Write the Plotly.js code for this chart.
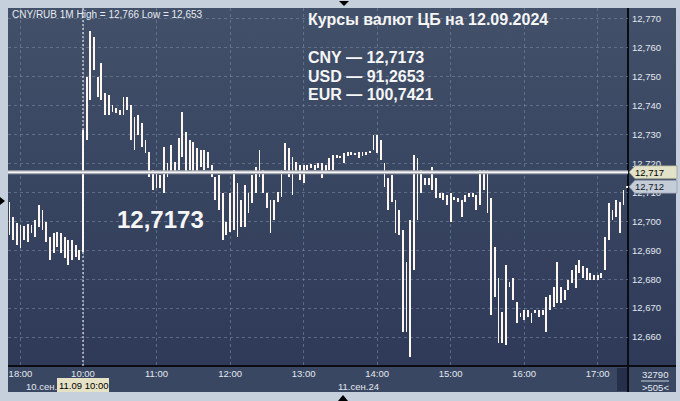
<!DOCTYPE html>
<html><head><meta charset="utf-8">
<script src="https://cdn.plot.ly/plotly-3.0.1.min.js"></script>
<style>
html,body{margin:0;padding:0;background:#c6d0dc;width:680px;height:401px;overflow:hidden;}
.p{position:absolute;}
#plotbg{left:8px;top:8px;width:620px;height:358px;background:linear-gradient(#425069,#2e3a58);}
#rightbg{left:628px;top:8px;width:48px;height:358px;background:linear-gradient(#425069,#2e3a58);}
#xband{left:8px;top:366px;width:668px;height:26px;background:#3a4762;}
#scroll{left:617px;top:368px;width:10px;height:23px;background:#26304a;}
#hl{left:8px;top:365px;width:668px;height:2px;background:#0a0d14;}
#vl{left:627px;top:8px;width:2px;height:384px;background:#0a0d14;}
#tt{left:339px;top:1px;width:0;height:0;border-left:5px solid transparent;border-right:5px solid transparent;border-top:5px solid #000;}
#tb{left:338px;top:395px;width:0;height:0;border-left:5px solid transparent;border-right:5px solid transparent;border-bottom:6px solid #000;}
#tl{left:0px;top:197px;width:0;height:0;border-top:4px solid transparent;border-bottom:4px solid transparent;border-left:5px solid #000;}
#chart{position:absolute;left:0;top:0;width:680px;height:401px;}
</style></head>
<body>
<div class="p" id="plotbg"></div><div class="p" id="rightbg"></div><div class="p" id="xband"></div>
<div class="p" id="scroll"></div><div class="p" id="hl"></div><div class="p" id="vl"></div>
<div class="p" id="tt"></div><div class="p" id="tb"></div><div class="p" id="tl"></div>
<div id="chart"></div>
<script>
// minutes from 10:00 on 11.09 (negative = evening session of 10.09, 18:00 = -51)
const minutes = [
-60,-57,-54,-51,-48,-45,-42,-39,-36,-33,
-30,-27,-24,-21,-18,-15,-12,-9,-6,-3,
0,3,6,9,12,15,18,21,24,27,
30,33,36,39,42,45,48,51,54,57,
60,63,66,69,72,75,78,81,84,87,
90,93,96,99,102,105,108,111,114,117,
120,123,126,129,132,135,138,141,144,147,
150,153,156,159,162,165,168,171,174,177,
180,183,186,189,192,195,198,201,204,207,
210,213,216,219,222,225,228,231,234,237,
240,243,246,249,252,255,258,261,264,267,
270,273,276,279,282,285,288,291,294,297,
300,303,306,309,312,315,318,321,324,327,
330,333,336,339,342,345,348,351,354,357,
360,363,366,369,372,375,378,381,384,387,
390,393,396,399,402,405,408,411,414,417,
420,423,426,429,432,435,438,441,444];

const highs = [
12.7067,12.7015,12.6994,12.6987,12.6984,12.6991,12.6987,12.7005,12.7057,12.7039,
12.6998,12.6946,12.6960,12.6963,12.6960,12.6946,12.6936,12.6936,12.6918,12.6901,
12.7316,12.7499,12.7658,12.7638,12.7499,12.7548,12.7444,12.7437,12.7403,12.7392,
12.7385,12.7430,12.7430,12.7403,12.7361,12.7368,12.7340,12.7281,12.7240,12.7178,
12.7167,12.7160,12.7257,12.7202,12.7264,12.7205,12.7288,12.7378,12.7309,12.7281,
12.7274,12.7254,12.7247,12.7247,12.7240,12.7195,12.7153,12.7160,12.7098,12.6998,
12.7098,12.7178,12.7133,12.7074,12.7126,12.7098,12.7160,12.7188,12.7247,12.7178,
12.7098,12.7074,12.7074,12.7101,12.7178,12.7271,12.7254,12.7223,12.7205,12.7195,
12.7195,12.7195,12.7198,12.7195,12.7202,12.7202,12.7195,12.7219,12.7230,12.7230,
12.7226,12.7236,12.7240,12.7240,12.7236,12.7240,12.7240,12.7240,12.7243,12.7299,
12.7299,12.7281,12.7202,12.7150,12.7160,12.7074,12.7039,12.6970,12.6859,12.7005,
12.7230,12.7219,12.7178,12.7150,12.7150,12.7188,12.7150,12.7098,12.7098,12.7091,
12.7098,12.7084,12.7081,12.7074,12.7091,12.7098,12.7098,12.7091,12.7178,12.7178,
12.7178,12.7081,12.6911,12.6804,12.6687,12.6849,12.6790,12.6804,12.6721,12.6683,
12.6693,12.6693,12.6683,12.6693,12.6693,12.6693,12.6738,12.6745,12.6773,12.6859,
12.6773,12.6763,12.6797,12.6832,12.6849,12.6866,12.6846,12.6839,12.6821,12.6815,
12.6815,12.6821,12.6946,12.7064,12.7039,12.7074,12.7067,12.7109,12.7122];

const lows = [
12.6953,12.6936,12.6918,12.6908,12.6936,12.6929,12.6960,12.6946,12.6981,12.6970,
12.6929,12.6866,12.6891,12.6911,12.6891,12.6873,12.6849,12.6866,12.6877,12.6866,
12.6894,12.7281,12.7420,12.7524,12.7430,12.7420,12.7368,12.7368,12.7378,12.7375,
12.7368,12.7368,12.7385,12.7281,12.7247,12.7299,12.7257,12.7236,12.7153,12.7109,
12.7115,12.7115,12.7098,12.7153,12.7167,12.7171,12.7178,12.7223,12.7171,12.7178,
12.7171,12.7171,12.7188,12.7178,12.7185,12.7153,12.7074,12.7039,12.6936,12.6953,
12.6963,12.6970,12.6946,12.6981,12.6981,12.7029,12.7064,12.7098,12.7153,12.7098,
12.7046,12.6960,12.7005,12.7067,12.7084,12.7178,12.7153,12.7091,12.7171,12.7143,
12.7133,12.7178,12.7185,12.7178,12.7185,12.7150,12.7167,12.7178,12.7178,12.7219,
12.7219,12.7202,12.7226,12.7230,12.7230,12.7219,12.7226,12.7230,12.7236,12.7247,
12.7236,12.7212,12.7119,12.7039,12.7067,12.6960,12.6953,12.6617,12.6617,12.6530,
12.6832,12.7005,12.7098,12.7126,12.7126,12.7109,12.7081,12.7081,12.7074,12.7057,
12.6998,12.7074,12.7067,12.7015,12.7067,12.7084,12.7084,12.7039,12.7057,12.7109,
12.7029,12.6676,12.6738,12.6579,12.6579,12.6572,12.6773,12.6728,12.6648,12.6669,
12.6659,12.6669,12.6648,12.6683,12.6669,12.6676,12.6617,12.6693,12.6704,12.6718,
12.6718,12.6728,12.6763,12.6787,12.6770,12.6821,12.6804,12.6797,12.6797,12.6797,
12.6797,12.6804,12.6832,12.6936,12.7005,12.7015,12.6960,12.7057,12.7115];

const xTickMinutes = [-51, 0, 60, 120, 180, 240, 300, 360, 420];
const xTickLabels = ['18:00','10:00','11:00','12:00','13:00','14:00','15:00','16:00','17:00'];
const yTicks = [12.66,12.67,12.68,12.69,12.70,12.71,12.72,12.73,12.74,12.75,12.76,12.77];
const headerText = 'CNY/RUB 1M High = 12,766 Low = 12,653';
const titleText = 'Курсы валют ЦБ на 12.09.2024';
const rateLines = ['CNY — 12,7173', 'USD — 91,2653', 'EUR — 100,7421'];
const bigRate = '12,7173';
const cbRate = 12.717;      // CB rate line
const lastPrice = 12.712;   // last price tag
const dayLabels = ['10.сен.', '11.сен.24'];
const cursorLabel = '11.09 10:00';
const volText = '32790';
const countText = '>505<';

// pixel helpers for decorations (plot area: left 8, top 8, 620 x 358)
const L = 8, T = 8, W = 620, H = 358;
const yMin = 12.6500, yMax = 12.7738;
const X = px => (px - L) / W;
const Y = py => 1 - (py - T) / H;
const vToPy = v => T + (yMax - v) / (yMax - yMin) * H;

const FONT = 'Liberation Sans, Arial, sans-serif';
const ranges = highs.map((h, i) => Math.max(h - lows[i], 0.00035));

const trace = {
  type: 'bar', x: minutes, y: ranges, base: lows, width: 1.5,
  marker: {color: '#fff6f0', line: {width: 0}}, hoverinfo: 'skip'
};

function tag(v, fill, line) {
  const py = vToPy(v);
  return {type: 'path', xref: 'paper', yref: 'paper', layer: 'above',
    path: `M ${X(629)} ${Y(py)} L ${X(635)} ${Y(py-6.5)} L ${X(677)} ${Y(py-6.5)} L ${X(677)} ${Y(py+6.5)} L ${X(635)} ${Y(py+6.5)} Z`,
    fillcolor: fill, line: {color: line, width: 0.6}};
}

const shapes = [
  {type: 'line', xref: 'x', yref: 'paper', x0: 0, x1: 0, y0: 0, y1: 1, layer: 'above',
   line: {color: '#ffffff', width: 1, dash: '2px,2px'}},
  {type: 'line', xref: 'paper', yref: 'y', x0: 0, x1: 1, y0: cbRate, y1: cbRate, layer: 'above',
   line: {color: '#a4a8b2', width: 4}},
  {type: 'line', xref: 'paper', yref: 'y', x0: 0, x1: 1, y0: cbRate, y1: cbRate, layer: 'above',
   line: {color: '#f6f6f6', width: 1.6}},
  tag(cbRate, '#e2e2c8', '#8c8c80'),
  tag(lastPrice, '#c4ccd8', '#8890a0'),
  {type: 'rect', xref: 'paper', yref: 'paper', x0: X(57), x1: X(109), y0: Y(392), y1: Y(378),
   fillcolor: '#e6e2c6', line: {width: 0}, layer: 'above'},
  {type: 'line', xref: 'paper', yref: 'paper', x0: X(641), x1: X(669), y0: Y(381), y1: Y(381),
   line: {color: '#c8d0dc', width: 1}, layer: 'above'}
];

const small = {family: FONT, size: 9.5, color: '#e2e8f0'};
const ann = (px, py, text, font, xanchor) => ({xref: 'paper', yref: 'paper', x: X(px), y: Y(py),
  text, font, xanchor: xanchor || 'left', yanchor: 'middle', showarrow: false});
const bold = {family: FONT, size: 16, color: '#f6f6f6', weight: 700};

const annotations = [
  ann(10, 15, headerText, {family: FONT, size: 10, color: '#e6eaf0'}),
  ann(306, 19, titleText, bold),
  ann(306, 57, rateLines[0], bold),
  ann(306, 76, rateLines[1], bold),
  ann(306, 94, rateLines[2], bold),
  ann(115, 219, bigRate, {family: FONT, size: 24, color: '#f6f6f6', weight: 700}),
  ann(24, 386, dayLabels[0], small),
  ann(336, 386, dayLabels[1], small),
  ann(83, 385, cursorLabel, {family: FONT, size: 9.5, color: '#000000'}, 'center'),
  ann(655, 374, volText, small, 'center'),
  ann(655, 387, countText, small, 'center'),
  {xref: 'paper', yref: 'y', x: X(633), y: cbRate, text: '12,717', showarrow: false,
   xanchor: 'left', yanchor: 'middle', font: {family: FONT, size: 9.5, color: '#000'}},
  {xref: 'paper', yref: 'y', x: X(633), y: lastPrice, text: '12,712', showarrow: false,
   xanchor: 'left', yanchor: 'middle', font: {family: FONT, size: 9.5, color: '#101828'}}
];

const grid = 'rgba(125,140,170,0.55)';
const layout = {
  width: 680, height: 401, margin: {l: 8, r: 52, t: 8, b: 35},
  paper_bgcolor: 'rgba(0,0,0,0)', plot_bgcolor: 'rgba(0,0,0,0)',
  separators: ', ', showlegend: false, bargap: 0,
  xaxis: {range: [-61.2, 444.7], tickvals: xTickMinutes, ticktext: xTickLabels,
    showgrid: true, gridcolor: grid, griddash: '3px,3px', gridwidth: 1,
    zeroline: false, showline: false, ticks: '', tickfont: small, fixedrange: true},
  yaxis: {side: 'right', range: [yMin, yMax], tickvals: yTicks, tickformat: '.3f',
    showgrid: true, gridcolor: grid, griddash: '3px,3px', gridwidth: 1,
    zeroline: false, showline: false, ticks: '', tickfont: small, ticklabelstandoff: 3, fixedrange: true},
  shapes, annotations
};

Plotly.newPlot('chart', [trace], layout, {staticPlot: true, displayModeBar: false});
</script>
</body></html>
